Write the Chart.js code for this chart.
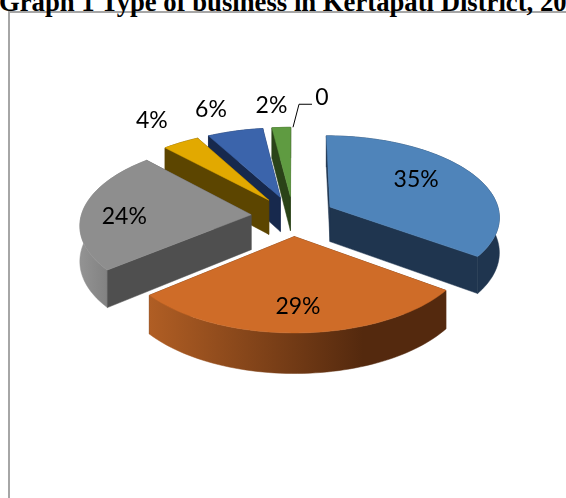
<!DOCTYPE html>
<html>
<head>
<meta charset="utf-8">
<title>Graph 1</title>
<script src="https://cdn.jsdelivr.net/npm/chart.js@4"></script>
<style>
  html, body { margin: 0; background: #fff; overflow: hidden; width: 566px; height: 498px; }
  #title {
    position: absolute; left: -1px; top: -13px; margin: 0; white-space: nowrap;
    font: bold 26.7px "Liberation Serif", serif; color: #000;
  }
  #frame {
    position: absolute; left: 8px; top: 11px; width: 570px; height: 500px;
    border-left: 2px solid #a6a6a6; border-top: 2px solid #a6a6a6;
  }
  #pie { position: absolute; left: 0; top: 0; }
</style>
</head>
<body>
<div id="frame"></div>
<h1 id="title">Graph 1 Type of business in Kertapati District, 20</h1>
<canvas id="pie" width="566" height="498"></canvas>
<script>
// percentages, clockwise from 12 o'clock
const categories = ['Type 1', 'Type 2', 'Type 3', 'Type 4', 'Type 5', 'Type 6', 'Type 7'];
const shares = [35, 29, 24, 4, 6, 2, 0];
const sliceLabels = ['35%', '29%', '24%', '4%', '6%', '2%', '0'];

const topColors = ['#4f84ba', '#cf6c28', '#8e8e8e', '#e2a900', '#3b64ab', '#5f9b41', '#a5a5a5'];
const wallColors = ['#1f354f', '#54290e', '#4f4f4f', '#5c4500', '#17294d', '#2a4318', '#444444'];
const rimColors = [
    ['#1f354f', '#1f354f'],
    ['#b05e24', '#54290e'],
    ['#939393', '#757575'],
    ['#5c4500', '#5c4500'],
    ['#17294d', '#17294d'],
    ['#2a4318', '#2a4318'],
    ['#444444', '#444444']
];

// label placement: fraction of radius along the slice middle, then a small nudge
const labelRadius = [0.6, 0.75, 0.76, 1.1, 1.1, 1.1, 1.0];
const labelNudge = [[0, -7], [-1, 0], [1, 6], [-21, -17], [-20, -16], [-9, -16], [29, -30]];

const TILT = 0.476;
const PERSPECTIVE = 0.11;
const DEPTH = 35;

function project(arc, mx, my, h) {
    const s = 1 / (1 - PERSPECTIVE * my / arc.outerRadius);
    return [arc.x + mx * s, arc.y + (my * TILT + h) * s];
}

function slicePoint(arc, angle, r, h) {
    const mid = (arc.startAngle + arc.endAngle) / 2;
    const off = arc.options.offset;
    const mx = Math.cos(mid) * off + Math.cos(angle) * r;
    const my = Math.sin(mid) * off + Math.sin(angle) * r;
    return project(arc, mx, my, h);
}

function fillPath(ctx, pts, color) {
    ctx.beginPath();
    pts.forEach((p, i) => i ? ctx.lineTo(p[0], p[1]) : ctx.moveTo(p[0], p[1]));
    ctx.closePath();
    ctx.fillStyle = color;
    ctx.strokeStyle = color;
    ctx.lineWidth = 0.5;
    ctx.fill();
    ctx.stroke();
}

// a radial wall shows only if the top face lies above its edge on screen
function wallVisible(apex, rimPoint, inside) {
    const ex = rimPoint[0] - apex[0], ey = rimPoint[1] - apex[1];
    const wx = inside[0] - apex[0], wy = inside[1] - apex[1];
    return (ex * wy - ey * wx) * Math.sign(ex) < 0;
}

function drawSlice(ctx, arc, i) {
    const R = arc.outerRadius;
    const a0 = arc.startAngle, a1 = arc.endAngle;
    const steps = Math.max(4, Math.ceil((a1 - a0) / 0.03));
    const rimTop = [], rimBottom = [];
    for (let k = 0; k <= steps; k++) {
        const a = a0 + (a1 - a0) * k / steps;
        rimTop.push(slicePoint(arc, a, R, 0));
        rimBottom.push(slicePoint(arc, a, R, DEPTH));
    }
    const apexTop = slicePoint(arc, a0, 0, 0);
    const apexBottom = slicePoint(arc, a0, 0, DEPTH);
    const inside = rimTop[Math.round(steps / 2)];

    const walls = [0, steps].map(n => ({
        pts: [apexTop, rimTop[n], rimBottom[n], apexBottom],
        front: wallVisible(apexTop, rimTop[n], inside)
    }));
    walls.filter(w => !w.front).forEach(w => fillPath(ctx, w.pts, wallColors[i]));

    const xs = rimTop.map(p => p[0]);
    const grad = ctx.createLinearGradient(Math.min(...xs), 0, Math.max(...xs), 0);
    grad.addColorStop(0, rimColors[i][0]);
    grad.addColorStop(0.72, rimColors[i][1]);
    fillPath(ctx, rimTop.concat(rimBottom.slice().reverse()), grad);

    walls.filter(w => w.front).forEach(w => fillPath(ctx, w.pts, wallColors[i]));
    fillPath(ctx, [apexTop].concat(rimTop), arc.options.backgroundColor);
}

const pie3d = {
    id: 'pie3d',
    // the library's flat arcs are replaced by projected ones built from the same elements
    beforeDatasetDraw(chart) {
        const ctx = chart.ctx;
        const arcs = chart.getDatasetMeta(0).data;
        const order = arcs.map((a, i) => i).filter(i => arcs[i].endAngle - arcs[i].startAngle > 0.001);
        order.sort((p, q) => {
            const mid = a => (a.startAngle + a.endAngle) / 2;
            return Math.sin(mid(arcs[p])) - Math.sin(mid(arcs[q]));
        });
        ctx.save();
        order.forEach(i => drawSlice(ctx, arcs[i], i));
        ctx.restore();
        return false;
    },
    afterDatasetsDraw(chart) {
        const ctx = chart.ctx;
        const arcs = chart.getDatasetMeta(0).data;
        ctx.save();
        ctx.font = '23px Lato, sans-serif';
        ctx.fillStyle = '#000';
        ctx.textAlign = 'center';
        ctx.textBaseline = 'middle';
        arcs.forEach((arc, i) => {
            const mid = (arc.startAngle + arc.endAngle) / 2;
            const p = slicePoint(arc, mid, arc.outerRadius * labelRadius[i], 0);
            const x = p[0] + labelNudge[i][0], y = p[1] + labelNudge[i][1];
            if (arc.endAngle - arc.startAngle <= 0.001) {
                // leader for the empty slice
                ctx.beginPath();
                ctx.moveTo(p[0], p[1]);
                ctx.lineTo(p[0] + 6, y + 7);
                ctx.lineTo(x - 10, y + 7);
                ctx.strokeStyle = '#000';
                ctx.lineWidth = 1;
                ctx.stroke();
            }
            ctx.fillText(sliceLabels[i], x, y);
        });
        ctx.restore();
    }
};

new Chart(document.getElementById('pie'), {
    type: 'pie',
    data: {
        labels: categories,
        datasets: [{
            data: shares,
            backgroundColor: topColors,
            offset: 42,
            borderWidth: 0
        }]
    },
    options: {
        responsive: false,
        animation: false,
        radius: 170,
        layout: { padding: { left: 20, right: 0, top: 0, bottom: 66 } },
        plugins: { legend: { display: false }, tooltip: { enabled: false } }
    },
    plugins: [pie3d]
});
</script>
</body>
</html>
